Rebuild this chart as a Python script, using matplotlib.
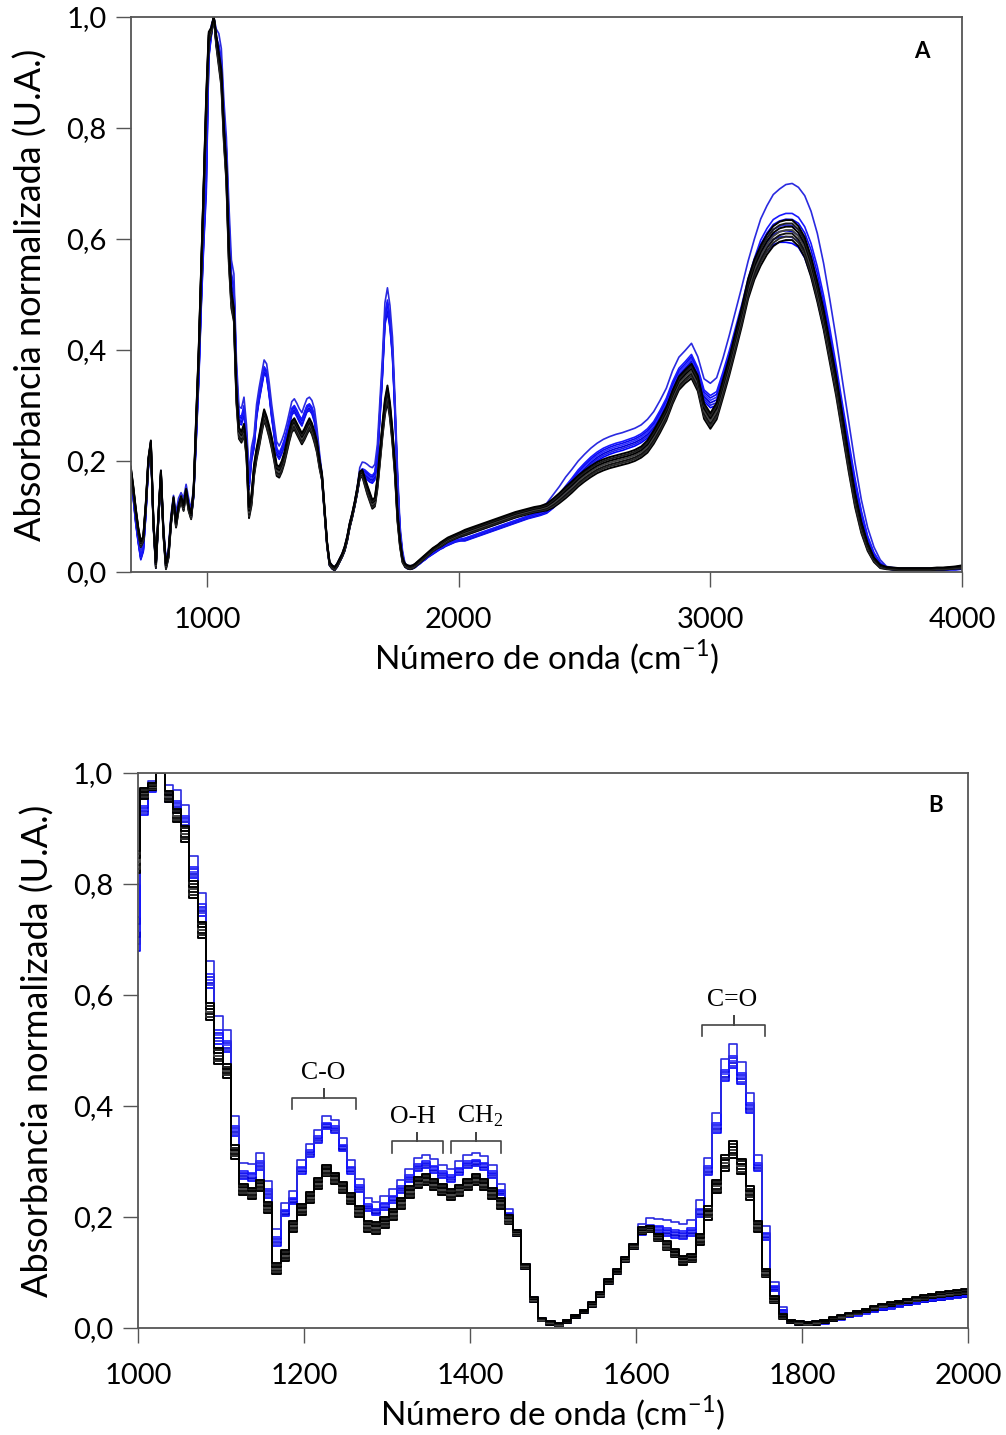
import numpy as np
import matplotlib
matplotlib.use("Agg")
import matplotlib.pyplot as plt
from matplotlib.ticker import FuncFormatter

# wavenumber grids (cm-1): 10 cm-1 steps up to 2007, then 25 cm-1 steps
wn_fine = np.arange(697, 2008, 10)
wn_coarse = np.arange(2025, 4001, 25)

# black bundle: middle curve and half width of the bundle
black_mid_fine = [
    0.185, 0.150, 0.110, 0.075, 0.050, 0.060, 0.120, 0.200, 0.232, 0.090,
    0.012, 0.100, 0.178, 0.070, 0.010, 0.030, 0.090, 0.130, 0.085, 0.115,
    0.132, 0.115, 0.145, 0.115, 0.100, 0.145, 0.270, 0.390, 0.540, 0.690,
    0.840, 0.963, 0.975, 1.000, 0.957, 0.923, 0.890, 0.790, 0.717, 0.570,
    0.490, 0.463, 0.317, 0.250, 0.243, 0.257, 0.217, 0.107, 0.130, 0.183,
    0.213, 0.235, 0.260, 0.283, 0.270, 0.253, 0.233, 0.210, 0.183, 0.180,
    0.190, 0.205, 0.225, 0.245, 0.262, 0.267, 0.258, 0.249, 0.240, 0.248,
    0.258, 0.267, 0.258, 0.243, 0.225, 0.195, 0.171, 0.111, 0.051, 0.015,
    0.009, 0.006, 0.012, 0.021, 0.030, 0.042, 0.060, 0.084, 0.102, 0.123,
    0.147, 0.175, 0.178, 0.163, 0.148, 0.135, 0.122, 0.126, 0.159, 0.207,
    0.255, 0.297, 0.321, 0.291, 0.243, 0.183, 0.099, 0.051, 0.021, 0.012,
    0.009, 0.008, 0.009, 0.012, 0.016, 0.020, 0.024, 0.028, 0.032, 0.036,
    0.040, 0.043, 0.046, 0.049, 0.052, 0.055, 0.058, 0.060, 0.062, 0.064,
    0.066, 0.068]
black_half_fine = [
    0.005, 0.005, 0.005, 0.005, 0.005, 0.005, 0.005, 0.005, 0.005, 0.005,
    0.005, 0.005, 0.005, 0.005, 0.005, 0.005, 0.005, 0.005, 0.005, 0.005,
    0.005, 0.005, 0.005, 0.005, 0.005, 0.005, 0.010, 0.010, 0.010, 0.010,
    0.020, 0.010, 0.006, 0.000, 0.010, 0.012, 0.015, 0.015, 0.015, 0.015,
    0.015, 0.012, 0.012, 0.010, 0.010, 0.010, 0.010, 0.010, 0.010, 0.010,
    0.010, 0.010, 0.010, 0.010, 0.010, 0.010, 0.010, 0.010, 0.010, 0.010,
    0.010, 0.010, 0.010, 0.010, 0.010, 0.010, 0.010, 0.010, 0.010, 0.010,
    0.010, 0.010, 0.010, 0.010, 0.010, 0.008, 0.006, 0.005, 0.004, 0.003,
    0.003, 0.003, 0.003, 0.003, 0.003, 0.004, 0.004, 0.004, 0.004, 0.004,
    0.005, 0.006, 0.006, 0.007, 0.008, 0.008, 0.008, 0.008, 0.010, 0.012,
    0.012, 0.014, 0.015, 0.014, 0.012, 0.010, 0.008, 0.006, 0.004, 0.003,
    0.003, 0.003, 0.003, 0.003, 0.003, 0.003, 0.003, 0.003, 0.003, 0.003,
    0.003, 0.003, 0.003, 0.004, 0.004, 0.004, 0.004, 0.004, 0.004, 0.004,
    0.004, 0.004]
black_mid_coarse = [
    0.071, 0.075, 0.079, 0.083, 0.087, 0.091, 0.095, 0.099,
    0.103, 0.106, 0.109, 0.112, 0.114, 0.117, 0.124, 0.133,
    0.143, 0.153, 0.164, 0.173, 0.181, 0.188, 0.193, 0.197,
    0.200, 0.203, 0.206, 0.210, 0.216, 0.226, 0.243, 0.263,
    0.285, 0.315, 0.340, 0.352, 0.362, 0.340, 0.290, 0.272,
    0.290, 0.330, 0.370, 0.415, 0.460, 0.510, 0.545, 0.570,
    0.590, 0.605, 0.613, 0.616, 0.616, 0.605, 0.585, 0.550,
    0.505, 0.455, 0.395, 0.335, 0.265, 0.195, 0.130, 0.080,
    0.045, 0.022, 0.010, 0.007, 0.006, 0.005, 0.005, 0.005,
    0.005, 0.005, 0.005, 0.006, 0.006, 0.007, 0.008, 0.009]
black_half_coarse = [
    0.005, 0.005, 0.005, 0.005, 0.005, 0.005, 0.005, 0.005,
    0.005, 0.005, 0.005, 0.005, 0.005, 0.006, 0.008, 0.009,
    0.010, 0.010, 0.010, 0.010, 0.010, 0.010, 0.010, 0.010,
    0.010, 0.010, 0.010, 0.010, 0.010, 0.011, 0.012, 0.012,
    0.012, 0.012, 0.012, 0.012, 0.013, 0.014, 0.014, 0.014,
    0.015, 0.016, 0.016, 0.017, 0.017, 0.018, 0.018, 0.018,
    0.018, 0.018, 0.018, 0.018, 0.018, 0.018, 0.018, 0.018,
    0.018, 0.018, 0.018, 0.018, 0.017, 0.015, 0.013, 0.010,
    0.007, 0.004, 0.003, 0.002, 0.002, 0.002, 0.002, 0.002,
    0.002, 0.002, 0.002, 0.002, 0.002, 0.002, 0.002, 0.003]

# blue bundle
blue_mid_fine = [
    0.175, 0.140, 0.095, 0.060, 0.030, 0.045, 0.110, 0.195, 0.228, 0.090,
    0.015, 0.100, 0.175, 0.075, 0.015, 0.035, 0.095, 0.130, 0.100, 0.125,
    0.135, 0.125, 0.150, 0.125, 0.105, 0.145, 0.250, 0.360, 0.500, 0.620,
    0.740, 0.940, 0.975, 1.000, 0.963, 0.950, 0.923, 0.830, 0.763, 0.637,
    0.537, 0.517, 0.363, 0.283, 0.280, 0.300, 0.250, 0.163, 0.213, 0.235,
    0.290, 0.320, 0.345, 0.370, 0.363, 0.330, 0.290, 0.257, 0.223, 0.215,
    0.225, 0.238, 0.255, 0.275, 0.295, 0.300, 0.292, 0.282, 0.275, 0.288,
    0.300, 0.303, 0.297, 0.282, 0.249, 0.207, 0.171, 0.111, 0.051, 0.015,
    0.009, 0.006, 0.012, 0.021, 0.030, 0.042, 0.060, 0.084, 0.102, 0.123,
    0.147, 0.178, 0.186, 0.184, 0.180, 0.176, 0.174, 0.180, 0.215, 0.291,
    0.369, 0.465, 0.490, 0.460, 0.405, 0.297, 0.171, 0.075, 0.033, 0.012,
    0.009, 0.008, 0.009, 0.011, 0.015, 0.018, 0.022, 0.025, 0.029, 0.032,
    0.035, 0.038, 0.041, 0.044, 0.046, 0.049, 0.051, 0.053, 0.055, 0.057,
    0.058, 0.059]
blue_half_fine = [
    0.008, 0.008, 0.008, 0.008, 0.008, 0.008, 0.008, 0.008, 0.008, 0.008,
    0.008, 0.008, 0.008, 0.008, 0.008, 0.008, 0.008, 0.008, 0.008, 0.008,
    0.008, 0.008, 0.008, 0.008, 0.008, 0.010, 0.015, 0.020, 0.025, 0.030,
    0.060, 0.015, 0.010, 0.000, 0.015, 0.020, 0.020, 0.020, 0.020, 0.025,
    0.025, 0.020, 0.018, 0.015, 0.015, 0.015, 0.015, 0.015, 0.012, 0.012,
    0.012, 0.012, 0.012, 0.012, 0.012, 0.012, 0.012, 0.012, 0.012, 0.012,
    0.012, 0.012, 0.012, 0.012, 0.012, 0.012, 0.012, 0.012, 0.012, 0.012,
    0.012, 0.012, 0.012, 0.012, 0.010, 0.008, 0.006, 0.005, 0.004, 0.003,
    0.003, 0.003, 0.003, 0.003, 0.003, 0.004, 0.004, 0.004, 0.004, 0.004,
    0.005, 0.010, 0.012, 0.013, 0.014, 0.014, 0.014, 0.014, 0.015, 0.016,
    0.018, 0.020, 0.022, 0.020, 0.018, 0.015, 0.012, 0.008, 0.005, 0.003,
    0.003, 0.003, 0.003, 0.003, 0.003, 0.003, 0.003, 0.003, 0.003, 0.003,
    0.003, 0.003, 0.003, 0.003, 0.003, 0.003, 0.003, 0.003, 0.003, 0.003,
    0.003, 0.003]
blue_mid_coarse = [
    0.061, 0.065, 0.069, 0.073, 0.077, 0.081, 0.085, 0.089,
    0.093, 0.097, 0.101, 0.105, 0.109, 0.115, 0.127, 0.140,
    0.155, 0.169, 0.184, 0.196, 0.207, 0.216, 0.223, 0.228,
    0.232, 0.235, 0.239, 0.243, 0.249, 0.258, 0.271, 0.291,
    0.313, 0.343, 0.367, 0.379, 0.392, 0.368, 0.328, 0.318,
    0.325, 0.360, 0.398, 0.440, 0.482, 0.528, 0.565, 0.598,
    0.619, 0.635, 0.642, 0.646, 0.646, 0.639, 0.622, 0.592,
    0.550, 0.498, 0.438, 0.372, 0.302, 0.235, 0.168, 0.110,
    0.065, 0.035, 0.017, 0.008, 0.006, 0.005, 0.005, 0.005,
    0.005, 0.005, 0.005, 0.005, 0.005, 0.006, 0.006, 0.007]
blue_half_coarse = [
    0.005, 0.005, 0.005, 0.005, 0.005, 0.005, 0.005, 0.005,
    0.005, 0.005, 0.005, 0.006, 0.007, 0.009, 0.012, 0.014,
    0.016, 0.016, 0.016, 0.016, 0.016, 0.016, 0.016, 0.016,
    0.016, 0.016, 0.016, 0.016, 0.016, 0.017, 0.018, 0.018,
    0.018, 0.020, 0.020, 0.020, 0.020, 0.020, 0.020, 0.022,
    0.025, 0.025, 0.028, 0.030, 0.032, 0.032, 0.035, 0.038,
    0.041, 0.045, 0.048, 0.052, 0.054, 0.054, 0.056, 0.058,
    0.060, 0.058, 0.052, 0.048, 0.042, 0.035, 0.028, 0.020,
    0.015, 0.010, 0.005, 0.002, 0.002, 0.002, 0.002, 0.002,
    0.002, 0.002, 0.002, 0.002, 0.002, 0.002, 0.002, 0.002]

# where each spectrum sits inside its bundle (0 = lowest, 1 = highest)
black_levels = [0.0, 0.17, 0.33, 0.5, 0.67, 0.83, 1.0]
blue_levels = [0.0, 0.1, 0.2, 0.3, 0.4, 0.5, 1.0]
black_colors = ['#000000', '#2a2a2a', '#111111', '#444444', '#000000', '#1e1e1e', '#000000']
blue_colors = ['#0000ff', '#2020e8', '#0000d8', '#3030ff', '#0a0af0', '#1818ff', '#2a2ae0']

# bracket annotations in panel B: label, start, end, height
bracket_labels = ['C-O', 'O-H', r'CH$_\mathregular{2}$', 'C=O']
bracket_start = [1186, 1306, 1377, 1679]
bracket_end = [1263, 1367, 1437, 1756]
bracket_y = [0.414, 0.336, 0.336, 0.546]
bracket_text_x = [1223, 1331, 1412, 1716]

wn = np.concatenate([wn_fine, wn_coarse])
black_mid = np.array(black_mid_fine + black_mid_coarse)
black_half = np.array(black_half_fine + black_half_coarse)
blue_mid = np.array(blue_mid_fine + blue_mid_coarse)
blue_half = np.array(blue_half_fine + blue_half_coarse)

plt.rcParams['font.family'] = ['Lato', 'DejaVu Sans']
plt.rcParams['mathtext.fontset'] = 'custom'
plt.rcParams['mathtext.rm'] = 'Lato'

fig = plt.figure(figsize=(10.06, 14.35), dpi=100)
axA = fig.add_axes([0.1307, 0.6014, 0.8256, 0.3868])
axB = fig.add_axes([0.1372, 0.0746, 0.8250, 0.3868])

comma = FuncFormatter(lambda v, p: ('%.1f' % v).replace('.', ','))


def draw_bundle(ax, mid, half, levels, colors, lw, step):
    for t, c in zip(levels, colors):
        y = mid + (2 * t - 1) * half
        if step:
            ax.plot(wn, y, color=c, lw=lw, drawstyle='steps-mid')
        else:
            ax.plot(wn, y, color=c, lw=lw)


for ax, step in [(axA, False), (axB, True)]:
    draw_bundle(ax, blue_mid, blue_half, blue_levels, blue_colors, 1.2, step)
    draw_bundle(ax, black_mid, black_half, black_levels, black_colors, 1.4, step)
    ax.set_ylim(0, 1.0)
    ax.set_yticks(np.arange(0, 1.01, 0.2))
    ax.yaxis.set_major_formatter(comma)
    ax.tick_params(direction='out', width=1, color='#555555', labelsize=21)
    ax.tick_params(axis='y', length=11, pad=7)
    ax.tick_params(axis='x', length=11, pad=14)
    for s in ax.spines.values():
        s.set_color('#555555')
        s.set_linewidth(1.3)
    ax.set_xlabel('Número de onda (cm$^{\\mathregular{-1}}$)', fontsize=24, labelpad=4)
    ax.set_ylabel('Absorbancia normalizada (U.A.)', fontsize=26)
    ax.yaxis.set_label_coords(-0.101, 0.5)

axA.set_xlim(700, 4000)
axA.set_xticks([1000, 2000, 3000, 4000])
axA.text(0.952, 0.937, 'A', transform=axA.transAxes, fontsize=16,
         fontweight='bold', ha='center', va='center')

axB.set_xlim(1000, 2000)
axB.set_xticks(np.arange(1000, 2001, 200))
axB.text(0.961, 0.942, 'B', transform=axB.transAxes, fontsize=16,
         fontweight='bold', ha='center', va='center')

# bond assignment brackets
for lab, x0, x1, y, xt in zip(bracket_labels, bracket_start, bracket_end,
                              bracket_y, bracket_text_x):
    xm = (x0 + x1) / 2
    axB.plot([x0, x0, xm, xm, xm, x1, x1], [y - 0.02, y, y, y + 0.016, y, y, y - 0.02],
             color='#444444', lw=1.2)
    axB.text(xt, y + 0.034, lab, ha='center', va='baseline', fontsize=18.5,
             family=['Liberation Serif', 'DejaVu Serif'])

fig.savefig('out.png', dpi=100, facecolor='white')
